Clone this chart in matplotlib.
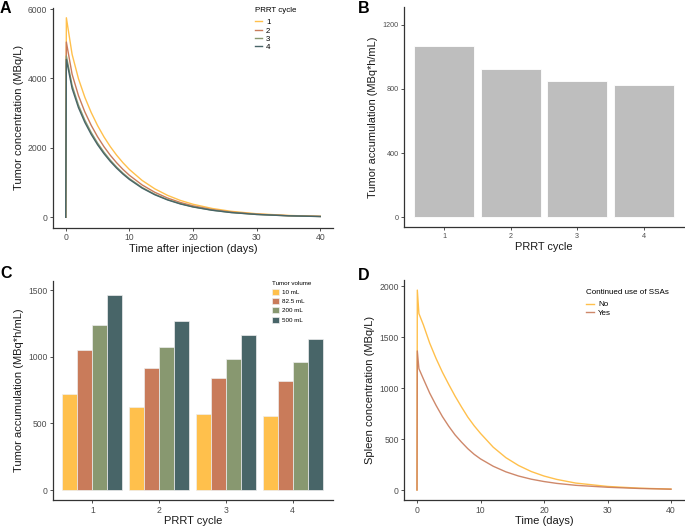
import matplotlib
matplotlib.use("Agg")
import matplotlib.pyplot as plt
import numpy as np

plt.rcParams['font.family'] = ['Liberation Sans', 'DejaVu Sans']

# ---------------- data ----------------
# Panel A: tumor concentration over time per PRRT cycle
t_a = [0, 0.1, 1, 2, 3, 4, 5, 6, 7, 8, 9, 10, 12, 14, 16, 18, 20, 23, 26, 30, 35, 40]
conc_c1 = [0, 5750, 4697, 3995, 3460, 3021, 2645, 2320, 2037, 1789, 1571, 1379, 1063, 820, 632, 487, 376, 255, 172, 102, 53, 28]
conc_c2 = [0, 5050, 4124, 3508, 3038, 2652, 2322, 2037, 1788, 1571, 1379, 1211, 933, 720, 555, 428, 330, 224, 151, 90, 47, 25]
conc_c3 = [0, 4650, 3800, 3232, 2799, 2444, 2140, 1877, 1648, 1447, 1271, 1116, 860, 663, 511, 394, 304, 206, 139, 83, 43, 23]
conc_c4 = [0, 4550, 3715, 3160, 2737, 2390, 2092, 1835, 1611, 1415, 1243, 1091, 841, 649, 500, 385, 297, 202, 136, 81, 42, 22]
cycle_labels = ["1", "2", "3", "4"]

# Panel B: tumor accumulation per cycle
cycles = [1, 2, 3, 4]
accum_b = [1067, 927, 850, 827]

# Panel C: tumor accumulation per cycle and tumor volume
volume_labels = ["10 mL", "82.5 mL", "200 mL", "500 mL"]
accum_10 = [721, 626, 573, 558]
accum_82 = [1054, 916, 841, 816]
accum_200 = [1240, 1077, 984, 962]
accum_500 = [1462, 1272, 1167, 1134]

# Panel D: spleen concentration
t_d = [0, 0.05, 0.3, 1, 2, 3, 4, 5, 6, 7, 8, 9, 10, 12, 14, 16, 18, 20, 22, 25, 30, 35, 40]
spleen_no = [0, 1960, 1730, 1620, 1440, 1290, 1155, 1035, 920, 815, 715, 630, 555, 420, 317, 240, 181, 137, 104, 68, 35, 18, 9]
spleen_yes = [0, 1363, 1190, 1090, 950, 830, 720, 625, 540, 470, 405, 350, 305, 233, 178, 137, 106, 83, 65, 46, 27, 15, 8]
ssa_labels = ["No", "Yes"]

# ---------------- style ----------------
YEL = "#FFC04C"
RED = "#C97B5A"
GRN = "#889870"
DRK = "#486568"
GRAY = "#BEBEBE"
AX = "#333333"

W, H = 685, 528
fig = plt.figure(figsize=(W / 100, H / 100), dpi=100)


def ax_at(l, t, r, b):
    return fig.add_axes([l / W, 1 - b / H, (r - l) / W, (b - t) / H])


def style(ax, tsize):
    for s in ["top", "right"]:
        ax.spines[s].set_visible(False)
    for s in ["left", "bottom"]:
        ax.spines[s].set_color(AX)
        ax.spines[s].set_linewidth(0.9)
    ax.tick_params(axis="both", length=2.5, width=0.6, color=AX,
                   labelsize=tsize, labelcolor="#4d4d4d", pad=1.5)


def make_legend(ax, title, x, y, fs, spacing, title_sep, **kw):
    leg = ax.legend(title=title, loc="upper left", bbox_to_anchor=(x / W, 1 - y / H),
                    bbox_transform=fig.transFigure, frameon=False, fontsize=fs,
                    title_fontsize=fs, labelspacing=spacing, borderpad=0,
                    borderaxespad=0, alignment="left", **kw)
    leg._legend_box.sep = title_sep
    return leg


# Panel A
axA = ax_at(53, 7.7, 333, 227.7)
colsA = [YEL, RED, GRN, DRK]
for ys, c, lab in zip([conc_c1, conc_c2, conc_c3, conc_c4], colsA, cycle_labels):
    axA.plot(t_a, ys, color=c, lw=1.0, label=lab)
axA.set_xlim(-2, 42)
axA.set_ylim(-300, 6040)
axA.set_xticks([0, 10, 20, 30, 40])
axA.set_yticks([0, 2000, 4000, 6000])
style(axA, 6.2)
axA.set_xlabel("Time after injection (days)", fontsize=8, labelpad=1, color="#1a1a1a")
axA.set_ylabel("Tumor concentration (MBq/L)", fontsize=8, labelpad=3, color="#1a1a1a")
make_legend(axA, "PRRT cycle", 255, 7, 5.7, 0.1, 3.4, handlelength=0.9, handletextpad=0.5)

# Panel B
axB = ax_at(404.3, 7.3, 683.7, 227)
axB.bar(cycles, accum_b, width=0.9, color=GRAY, edgecolor="white", linewidth=0.6)
axB.set_xlim(0.4, 4.6)
axB.set_ylim(-62, 1310)
axB.set_xticks(cycles)
axB.set_yticks([0, 400, 800, 1200])
style(axB, 5.2)
axB.set_xlabel("PRRT cycle", fontsize=7.9, labelpad=2, color="#1a1a1a")
axB.set_ylabel("Tumor accumulation (MBq*h/mL)", fontsize=7.9, labelpad=3, color="#1a1a1a")

# Panel C
axC = ax_at(53, 280.7, 332.7, 500)
series_c = [accum_10, accum_82, accum_200, accum_500]
colsC = [YEL, RED, GRN, DRK]
bw = 0.225
for j, (vals, c, lab) in enumerate(zip(series_c, colsC, volume_labels)):
    xs = [cy + (j - 1.5) * bw for cy in cycles]
    axC.bar(xs, vals, width=bw, color=c, edgecolor="#eeeeee", linewidth=0.5, label=lab)
axC.set_xlim(0.41, 4.6)
axC.set_ylim(-75, 1572)
axC.set_xticks(cycles)
axC.set_yticks([0, 500, 1000, 1500])
style(axC, 6.2)
axC.set_xlabel("PRRT cycle", fontsize=8, labelpad=1, color="#1a1a1a")
axC.set_ylabel("Tumor accumulation (MBq*h/mL)", fontsize=8, labelpad=3, color="#1a1a1a")
make_legend(axC, "Tumor volume", 272, 281, 4.5, 0.5, 2.0,
            handlelength=1.1, handleheight=1.1, handletextpad=0.5)

# Panel D
axD = ax_at(404.3, 280, 683.7, 500)
axD.plot(t_d, spleen_no, color=YEL, lw=1.0, label=ssa_labels[0])
axD.plot(t_d, spleen_yes, color=RED, lw=1.0, label=ssa_labels[1], alpha=0.9)
axD.set_xlim(-2, 42)
axD.set_ylim(-98, 2059)
axD.set_xticks([0, 10, 20, 30, 40])
axD.set_yticks([0, 500, 1000, 1500, 2000])
style(axD, 6.2)
axD.set_xlabel("Time (days)", fontsize=8, labelpad=1, color="#1a1a1a")
axD.set_ylabel("Spleen concentration (MBq/L)", fontsize=8, labelpad=3, color="#1a1a1a")
make_legend(axD, "Continued use of SSAs", 586, 289, 5.8, 0.1, 3.4,
            handlelength=1.0, handletextpad=0.5)

# Panel letters
for lab, x, y in [("A", 0, 1), ("B", 358, 1), ("C", 0, 266), ("D", 358, 268)]:
    fig.text(x / W, 1 - y / H, lab, fontsize=11.5, fontweight="bold", va="top", ha="left",
             color="black")

fig.savefig("out.png", dpi=100)
